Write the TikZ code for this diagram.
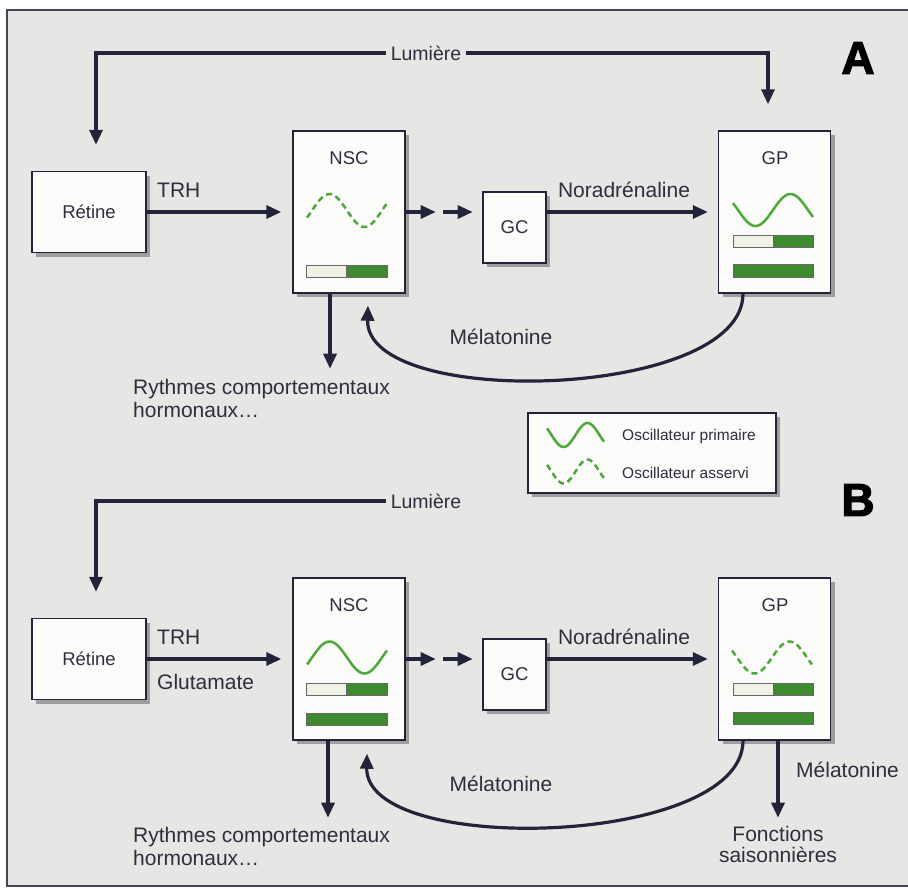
\documentclass[tikz,border=0pt]{standalone}
\usepackage{fontspec}
\setmainfont{Liberation Sans}
\newfontfamily\heavyfont[FakeBold=2.5]{Liberation Sans Bold}
\usetikzlibrary{arrows.meta,shadows,calc}
\definecolor{bg}{HTML}{E6E6E4}
\definecolor{ink}{HTML}{23233A}
\definecolor{txt}{HTML}{2E2E3E}
\definecolor{gdark}{HTML}{3D8B2E}
\definecolor{glight}{HTML}{EEF1E3}
\definecolor{gwave}{HTML}{4DA83A}
\definecolor{boxfill}{HTML}{FBFBFA}
\newcommand\oscwave[6]{\draw[#6] plot[domain=-#4:#4, samples=61, smooth] ({#1+\x},{#2+(#3)*sin(180+\x*180/#5)});}
\begin{document}
\begin{tikzpicture}[x=1pt,y=-1pt,
  font=\fontsize{21}{23}\selectfont, text=txt,
  arr/.style={draw=ink, line width=3.2pt, -{Triangle[length=15pt,width=13pt]}},
  boxn/.style={draw=ink, line width=1.4pt, fill=boxfill, inner sep=0pt,
    font=\fontsize{18.5}{20}\selectfont,
    drop shadow={shadow xshift=4pt, shadow yshift=-4pt, fill=black!38, opacity=1}},
  blab/.style={inner sep=0pt, font=\fontsize{18.5}{20}\selectfont},
  lbl/.style={inner sep=0pt},
  legtxt/.style={inner sep=0pt, anchor=west, font=\fontsize{15.5}{17}\selectfont},
  wavel/.style={draw=gwave, line width=2.5pt},
  wavedash/.style={draw=gwave, line width=2.5pt, dash pattern=on 6pt off 4pt},
  barlight/.style={draw=black!60, line width=0.9pt, fill=glight},
  bardark/.style={draw=black!60, line width=0.9pt, fill=gdark},
  letter/.style={inner sep=0pt, text=black, font=\heavyfont\fontsize{46}{46}\selectfont}
]
\useasboundingbox (0,0) rectangle (908,889);
\clip (0,0) rectangle (908,889);
\fill[white] (0,0) rectangle (908,889);
\draw[draw=ink!85, line width=1.5pt, fill=bg] (7,10) rectangle (930,886);

% ================= Panel A =================
\node[letter] (lettA) at (858,58) {A};
\node[boxn, minimum width=114pt, minimum height=81pt] (retA) at (89,212) {Rétine};
\node[boxn, minimum width=112pt, minimum height=162pt] (nscA) at (349,212) {};
\node[boxn, minimum width=63pt, minimum height=71pt] (gcA) at (514.5,227.5) {GC};
\node[boxn, minimum width=112pt, minimum height=162pt] (gpA) at (774.5,212) {};
\node[blab] (nscAl) at (349,158) {NSC};
\node[blab] (gpAl) at (775,158) {GP};

\node[lbl, inner sep=5pt, font=\fontsize{19.5}{22}\selectfont] (lumA) at (426,53) {Lumière};
\draw[arr] (lumA.west) -| ([xshift=7pt,yshift=26pt]retA.north);
\draw[arr] (lumA.east) -| ([xshift=-6.5pt,yshift=26pt]gpA.north);

\node[lbl, anchor=west] (trhA) at (157,190) {TRH};
\draw[arr] (retA.east) -- ([xshift=-11pt]nscA.west);
\draw[arr] (nscA.east) -- ++(30,0);
\draw[arr] ($(nscA.east)+(37,0)$) -- ++(30,0);
\node[lbl] (norA) at (624,190) {Noradrénaline};
\draw[arr] (gcA.east |- nscA.east) -- ([xshift=-10pt]gpA.west);

\oscwave{347}{210.5}{-16.5}{40}{35}{wavedash}
\draw[barlight] (306,265) rectangle (346.5,277);
\draw[bardark] (346.5,265) rectangle (387,277);

\oscwave{773}{210}{16}{40}{35}{wavel}
\draw[barlight] (733,235) rectangle (773,247);
\draw[bardark] (773,235) rectangle (813,247);
\draw[bardark] (733,264) rectangle (813,277);

\draw[arr] ([xshift=-19pt]nscA.south) -- ++(0,75);
\node[lbl, anchor=north west, align=left] (rytA) at (133,379) {Rythmes comportementaux\\hormonaux…};
\draw[arr] ([xshift=-31.5pt]gpA.south) .. controls (743,400) and (365,410) .. ([xshift=19pt,yshift=-12pt]nscA.south);
\node[lbl] (melA) at (501,337) {Mélatonine};

% ================= Legend =================
\node[boxn, minimum width=248pt, minimum height=80pt] (leg) at (652,453) {};
\oscwave{575.5}{435}{12}{28.5}{24}{wavel}
\oscwave{575.5}{471.5}{12}{28.5}{24}{wavedash}
\node[legtxt] (legp) at (622,436) {Oscillateur primaire};
\node[legtxt] (lega) at (622,473) {Oscillateur asservi};

% ================= Panel B =================
\node[letter] (lettB) at (858,500) {B};
\node[boxn, minimum width=114pt, minimum height=81pt] (retB) at (89,659) {Rétine};
\node[boxn, minimum width=112pt, minimum height=162pt] (nscB) at (349,659) {};
\node[boxn, minimum width=63pt, minimum height=71pt] (gcB) at (514.5,674.5) {GC};
\node[boxn, minimum width=112pt, minimum height=162pt] (gpB) at (774.5,659) {};
\node[blab] (nscBl) at (349,605) {NSC};
\node[blab] (gpBl) at (775,605) {GP};

\node[lbl, inner sep=5pt, font=\fontsize{19.5}{22}\selectfont] (lumB) at (426,501) {Lumière};
\draw[arr] (lumB.west) -| ([xshift=7pt,yshift=26pt]retB.north);

\node[lbl, anchor=west] (trhB) at (157,637) {TRH};
\node[lbl, anchor=west] (gluB) at (157,682) {Glutamate};
\draw[arr] (retB.east) -- ([xshift=-11pt]nscB.west);
\draw[arr] (nscB.east) -- ++(30,0);
\draw[arr] ($(nscB.east)+(37,0)$) -- ++(30,0);
\node[lbl] (norB) at (624,637) {Noradrénaline};
\draw[arr] (gcB.east |- nscB.east) -- ([xshift=-10pt]gpB.west);

\oscwave{347}{657.5}{-16}{40}{35}{wavel}
\draw[barlight] (306,683) rectangle (346.5,695);
\draw[bardark] (346.5,683) rectangle (387,695);
\draw[bardark] (306,713) rectangle (387,725);

\oscwave{772}{657.5}{16}{40}{35}{wavedash}
\draw[barlight] (733,683) rectangle (773,695);
\draw[bardark] (773,683) rectangle (813,695);
\draw[bardark] (733,712) rectangle (813,724);

\draw[arr] ([xshift=-21pt]nscB.south) -- ++(0,77);
\node[lbl, anchor=north west, align=left] (rytB) at (133,827) {Rythmes comportementaux\\hormonaux…};
\draw[arr] ([xshift=-31.5pt]gpB.south) .. controls (743,847) and (365,857) .. ([xshift=18pt,yshift=-13pt]nscB.south);
\node[lbl] (melB) at (501,784) {Mélatonine};

\draw[arr] ([xshift=3.5pt]gpB.south) -- ++(0,77);
\node[lbl, anchor=west] (melB2) at (796,770) {Mélatonine};
\node[lbl, anchor=north, align=center, font=\fontsize{21}{21}\selectfont] (fctB) at (778,826) {Fonctions\\saisonnières};
\end{tikzpicture}
\end{document}
